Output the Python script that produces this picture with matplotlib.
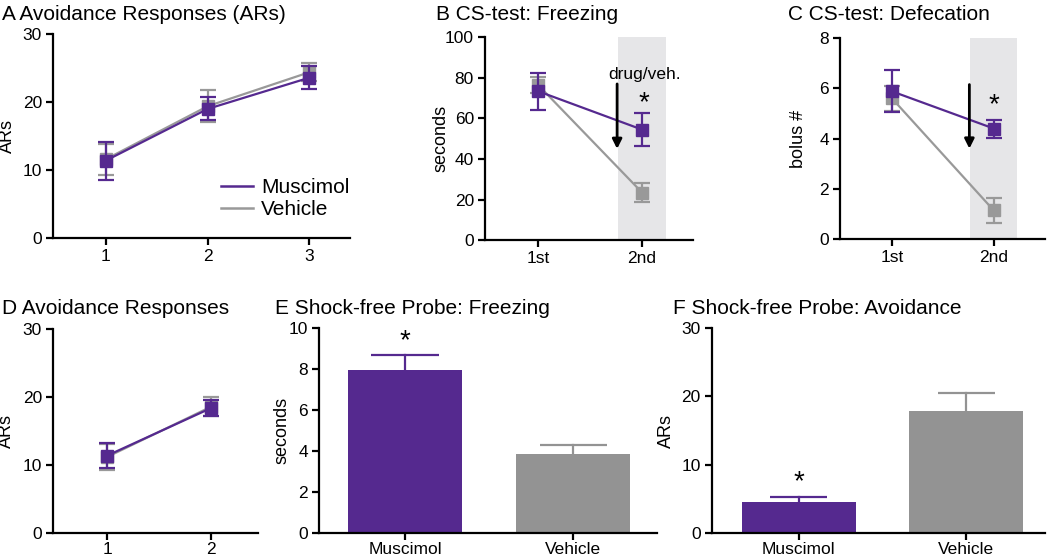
import matplotlib
matplotlib.use('Agg')
import matplotlib.pyplot as plt
from matplotlib.lines import Line2D

plt.rcParams['font.family'] = ['Liberation Sans', 'DejaVu Sans']
plt.rcParams['font.size'] = 12

PURPLE = '#55298f'
GRAY = '#999999'
BAR_GRAY = '#939393'
SHADE = '#e6e6e8'

# A: avoidance responses over sessions
a_sessions = [1, 2, 3]
a_musc = [11.4, 19.0, 23.6]
a_musc_err = [2.8, 1.7, 1.7]
a_veh = [11.6, 19.4, 24.4]
a_veh_err = [2.3, 2.4, 1.3]

# B: CS-test freezing
test_labels = ['1st', '2nd']
b_musc = [73.4, 54.5]
b_musc_err = [9.2, 8.2]
b_veh = [76.5, 23.5]
b_veh_err = [4.0, 4.5]

# C: CS-test defecation
c_musc = [5.88, 4.4]
c_musc_err = [0.84, 0.36]
c_veh = [5.6, 1.14]
c_veh_err = [0.5, 0.5]

# D: avoidance responses
d_sessions = [1, 2]
d_musc = [11.4, 18.4]
d_musc_err = [1.8, 1.2]
d_veh = [11.2, 18.6]
d_veh_err = [1.9, 1.4]

# E, F: shock-free probe
groups = ['Muscimol', 'Vehicle']
e_vals = [7.95, 3.82]
e_err = [0.72, 0.45]
f_vals = [4.56, 17.86]
f_err = [0.72, 2.65]

fig = plt.figure(figsize=(10.5, 5.6), dpi=100)


def style(ax, ylim, yticks, ylabel, label_x, xpad=3):
    ax.spines['top'].set_visible(False)
    ax.spines['right'].set_visible(False)
    ax.spines['left'].set_linewidth(1.6)
    ax.spines['bottom'].set_linewidth(1.6)
    ax.tick_params(width=1.6, length=5, labelsize=12.5, pad=3)
    ax.tick_params(axis='x', pad=xpad)
    ax.set_ylim(*ylim)
    ax.set_yticks(yticks)
    ax.set_ylabel(ylabel, fontsize=13)
    ax.yaxis.set_label_coords(label_x, 0.5)


def line_panel(ax, x, musc, musc_err, veh, veh_err):
    ax.errorbar(x, veh, yerr=veh_err, color=GRAY, marker='s', ms=9, lw=1.6,
                capsize=6, capthick=1.6, elinewidth=1.6, zorder=3)
    ax.errorbar(x, musc, yerr=musc_err, color=PURPLE, marker='s', ms=9, lw=1.6,
                capsize=6, capthick=1.6, elinewidth=1.6, zorder=4)


def bar_panel(ax, vals, errs, cap_w):
    colors = [PURPLE, BAR_GRAY]
    xs = list(range(len(vals)))
    ax.bar(xs, vals, width=0.68, color=colors, zorder=2)
    for x, v, e, c in zip(xs, vals, errs, colors):
        ax.plot([x, x], [v, v + e], color=c, lw=1.6, zorder=3)
        ax.hlines(v + e, x - cap_w / 2, x + cap_w / 2, color=c, lw=1.6, zorder=3)


# A
axA = fig.add_axes([0.0505, 0.575, 0.283, 0.364])
line_panel(axA, a_sessions, a_musc, a_musc_err, a_veh, a_veh_err)
axA.set_xlim(0.48, 3.4)
axA.set_xticks(a_sessions)
style(axA, (0, 30), [0, 10, 20, 30], 'ARs', -0.125)
handles = [Line2D([], [], color=PURPLE, lw=1.8), Line2D([], [], color=GRAY, lw=1.8)]
axA.legend(handles, ['Muscimol', 'Vehicle'], loc='lower right',
           bbox_to_anchor=(1.06, 0.0), frameon=False, handlelength=1.5,
           handletextpad=0.4, labelspacing=0.15, fontsize=15)

# B
axB = fig.add_axes([0.462, 0.571, 0.198, 0.3625])
axB.axvspan(1.77, 2.23, color=SHADE, zorder=0, lw=0)
line_panel(axB, [1, 2], b_musc, b_musc_err, b_veh, b_veh_err)
axB.set_xlim(0.49, 2.49)
axB.set_xticks([1, 2])
axB.set_xticklabels(test_labels)
style(axB, (0, 100), [0, 20, 40, 60, 80, 100], 'seconds', -0.17)
axB.annotate('', xy=(1.76, 45), xytext=(1.76, 77),
             arrowprops=dict(arrowstyle='-|>', color='black', lw=2,
                             mutation_scale=14, shrinkA=0, shrinkB=0), zorder=5)
axB.text(2.02, 78, 'drug/veh.', ha='center', va='bottom', fontsize=12.5)
axB.text(2.02, 61, '*', ha='center', va='bottom', fontsize=20)

# C
axC = fig.add_axes([0.8, 0.573, 0.195, 0.359])
axC.axvspan(1.77, 2.23, color=SHADE, zorder=0, lw=0)
line_panel(axC, [1, 2], c_musc, c_musc_err, c_veh, c_veh_err)
axC.set_xlim(0.49, 2.5)
axC.set_xticks([1, 2])
axC.set_xticklabels(test_labels)
style(axC, (0, 8), [0, 2, 4, 6, 8], 'bolus #', -0.16)
axC.annotate('', xy=(1.76, 3.6), xytext=(1.76, 6.15),
             arrowprops=dict(arrowstyle='-|>', color='black', lw=2,
                             mutation_scale=14, shrinkA=0, shrinkB=0), zorder=5)
axC.text(2.0, 4.8, '*', ha='center', va='bottom', fontsize=20)

# bottom row (nudged up a few px so tick labels stay inside the canvas)
# D
axD = fig.add_axes([0.0505, 0.048, 0.195, 0.364])
line_panel(axD, d_sessions, d_musc, d_musc_err, d_veh, d_veh_err)
axD.set_xlim(0.48, 2.45)
axD.set_xticks(d_sessions)
style(axD, (0, 30), [0, 10, 20, 30], 'ARs', -0.185, xpad=1.5)

# E
axE = fig.add_axes([0.304, 0.049, 0.322, 0.365])
bar_panel(axE, e_vals, e_err, 0.4)
axE.set_xlim(-0.51, 1.5)
axE.set_xticks([0, 1])
axE.set_xticklabels(groups)
style(axE, (0, 10), [0, 2, 4, 6, 8, 10], 'seconds', -0.086, xpad=1.5)
axE.text(0, 8.75, '*', ha='center', va='bottom', fontsize=20)

# F
axF = fig.add_axes([0.678, 0.048, 0.317, 0.366])
bar_panel(axF, f_vals, f_err, 0.34)
axF.set_xlim(-0.52, 1.47)
axF.set_xticks([0, 1])
axF.set_xticklabels(groups)
style(axF, (0, 30), [0, 10, 20, 30], 'ARs', -0.111, xpad=1.5)
axF.text(0, 5.5, '*', ha='center', va='bottom', fontsize=20)

# panel titles
fig.text(0.002, 0.964, 'A Avoidance Responses (ARs)', fontsize=15, va='baseline')
fig.text(0.415, 0.964, 'B CS-test: Freezing', fontsize=15, va='baseline')
fig.text(0.750, 0.964, 'C CS-test: Defecation', fontsize=15, va='baseline')
fig.text(0.002, 0.44, 'D Avoidance Responses', fontsize=15, va='baseline')
fig.text(0.262, 0.44, 'E Shock-free Probe: Freezing', fontsize=15, va='baseline')
fig.text(0.641, 0.44, 'F Shock-free Probe: Avoidance', fontsize=15, va='baseline')

fig.savefig('out.png', dpi=100)
